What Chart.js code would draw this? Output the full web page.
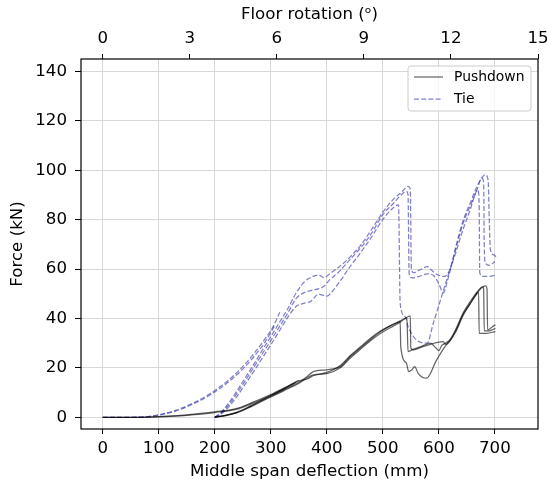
<!DOCTYPE html>
<html>
<head>
<meta charset="utf-8">
<script src="https://cdn.jsdelivr.net/npm/chart.js@4.4.1/dist/chart.umd.min.js"></script>
<style>
  html, body { margin: 0; padding: 0; background: #fff; }
  #chart { display: block; }
</style>
</head>
<body>
<canvas id="chart" width="547" height="486"></canvas>
<script>
// tick labels
const deflectionTicks = [0, 100, 200, 300, 400, 500, 600, 700];
const rotationTicks = [0, 3, 6, 9, 12, 15];
const forceTicks = [0, 20, 40, 60, 80, 100, 120, 140];

// Pushdown tests (mm, kN)
const push1X = [0, 60, 100, 150, 200, 240, 265, 300, 325, 350];
const push1Y = [0, 0, 0.3, 1, 2.2, 3.6, 5.8, 9.2, 12, 15];
const push2X = [0, 60, 100, 150, 200, 240, 265, 300, 325, 345];
const push2Y = [0, 0, 0.2, 0.8, 1.9, 3.3, 5.4, 8.8, 11.6, 14.2];
const push3X = [200, 220, 239, 263, 280, 298, 322, 352, 365, 376, 400, 424, 442, 460, 478, 495, 513, 531, 545, 549, 550, 555, 570, 585, 600, 608, 612, 620, 630, 644, 656, 668, 677, 683, 686, 687, 695, 701];
const push3Y = [0, 0.8, 1.9, 4.3, 6.3, 8.3, 11, 14.4, 16.5, 18.5, 19.2, 20.5, 24.6, 28, 31.5, 34.5, 37, 39, 40.7, 41, 28, 27.3, 28.5, 29.5, 30.4, 30.6, 29.5, 31, 35, 42, 46, 50.2, 52.5, 53.2, 52, 35.4, 36.5, 37.4];
const push4X = [200, 220, 239, 263, 280, 298, 322, 352, 365, 376, 400, 424, 442, 460, 478, 495, 513, 531, 543, 545, 555, 570, 585, 595, 600, 605, 612, 620, 630, 644, 656, 668, 678, 680, 681, 690, 701];
const push4Y = [0, 0.7, 1.8, 4.1, 6, 8, 10.6, 14, 16, 17.2, 17.7, 20, 24, 27.5, 31, 33.8, 36.2, 38.5, 40.2, 26.6, 27.6, 28.8, 30, 28, 27, 29, 30, 31.5, 35.5, 42.5, 46.8, 50.6, 52.8, 52, 35, 35, 36];
const push5X = [200, 220, 239, 263, 280, 298, 322, 352, 365, 376, 400, 424, 442, 460, 478, 495, 513, 528, 531, 532, 542, 546, 551, 557, 563, 578, 596, 611, 620, 630, 644, 656, 668, 671, 672, 685, 701];
const push5Y = [0, 0.9, 2, 4.5, 6.5, 8.6, 11.4, 14.8, 15.5, 16.8, 18.2, 21, 25, 28.5, 32, 34.8, 37, 38.5, 38.7, 28.6, 22, 18.5, 19, 20.5, 17.8, 15.8, 23.2, 28.6, 31, 34.5, 41.5, 46, 50, 50.5, 34, 34, 34.7];

// Tie tests (mm, kN)
const tie1X = [0, 50, 80, 100, 130, 160, 190, 220, 250, 270, 290, 305, 316];
const tie1Y = [0, 0, 0.3, 1, 2.8, 5.6, 9.3, 14.2, 20.5, 25.8, 31.8, 37, 42.5];
const tie2X = [0, 50, 80, 100, 130, 160, 190, 220, 250, 270, 290, 308];
const tie2Y = [0, 0, 0.2, 0.8, 2.5, 5.2, 8.8, 13.5, 19.5, 24.6, 30.5, 37.5];
const tie3X = [200, 210, 225, 240, 255, 270, 285, 300, 315, 330, 345, 360, 375, 385, 395, 405, 420, 440, 460, 480, 500, 520, 535, 545, 549, 551, 555, 565, 580, 585, 595, 610, 620, 632, 644, 656, 668, 677, 683, 688, 690, 692, 698, 702];
const tie3Y = [0, 1.7, 5.8, 10.8, 16.2, 21.6, 27.2, 32.6, 38.2, 43.8, 50.2, 54.8, 57, 57.6, 56.5, 58, 60.5, 64.5, 69.5, 76, 83, 88.5, 91.5, 93.4, 92.5, 60, 58.5, 59.5, 61, 60, 58, 57, 60, 70.5, 80, 86.7, 93.4, 97, 98.2, 96, 80, 67.8, 65.7, 65];
const tie4X = [200, 210, 225, 240, 255, 270, 285, 300, 315, 330, 345, 360, 375, 385, 395, 405, 420, 440, 460, 480, 500, 520, 535, 542, 545, 547, 552, 565, 580, 590, 600, 608, 615, 630, 644, 656, 668, 677, 680, 681, 683, 690, 700];
const tie4Y = [0, 1.4, 5, 9.8, 15, 20.3, 25.7, 31, 36.5, 42, 48, 50.5, 51.5, 52, 53, 55.6, 58.5, 63.5, 68.5, 74.5, 82, 86.8, 90.5, 91.4, 90, 58, 56.4, 57, 58, 57.5, 54, 50.4, 55, 68, 79, 85.5, 92, 96.8, 95, 70, 62.5, 61.5, 63];
const tie5X = [200, 210, 225, 240, 255, 270, 285, 300, 315, 330, 345, 360, 372, 385, 400, 410, 425, 440, 460, 480, 500, 515, 528, 531, 540, 545, 551, 560, 579, 590, 603, 614, 630, 644, 656, 666, 670, 672, 673, 680, 690, 701];
const tie5Y = [0, 1.1, 4.2, 8.6, 13.6, 18.7, 24, 29.3, 34.8, 40.3, 44.8, 46.2, 47, 49.8, 49, 51, 55.5, 60.5, 66.5, 73, 80, 84, 86, 46, 40.7, 36.7, 34, 31.3, 30, 38, 47.5, 55.6, 66.5, 76.5, 84, 91, 92, 85, 58.4, 57, 57, 57.5];

const pushColor = 'rgba(0,0,0,0.6)';
const tieColor = 'rgba(50,50,170,0.62)';
const tieDash = [5, 2.2];
const FONT = 'DejaVu Sans';

function toPoints(xs, ys) {
  return xs.map((x, i) => ({ x: x, y: ys[i] }));
}

function series(label, xs, ys, color, dash) {
  return {
    label: label,
    data: toPoints(xs, ys),
    showLine: true,
    borderColor: color,
    borderWidth: 1.25,
    borderDash: dash || [],
    pointRadius: 0,
    pointHoverRadius: 0,
    cubicInterpolationMode: 'monotone',
    fill: false
  };
}

const datasets = [
  series('Pushdown', push1X, push1Y, pushColor),
  series('Pushdown', push2X, push2Y, pushColor),
  series('Pushdown', push3X, push3Y, pushColor),
  series('Pushdown', push4X, push4Y, pushColor),
  series('Pushdown', push5X, push5Y, pushColor),
  series('Tie', tie1X, tie1Y, tieColor, tieDash),
  series('Tie', tie2X, tie2Y, tieColor, tieDash),
  series('Tie', tie3X, tie3Y, tieColor, tieDash),
  series('Tie', tie4X, tie4Y, tieColor, tieDash),
  series('Tie', tie5X, tie5Y, tieColor, tieDash)
];

const legendEntries = [
  { text: 'Pushdown', color: pushColor, dash: [] },
  { text: 'Tie', color: tieColor, dash: tieDash }
];

// frame around the plot + legend box in the upper right corner
const framePlugin = {
  id: 'frame',
  afterDraw(chart) {
    const { ctx, chartArea: a } = chart;
    ctx.save();
    ctx.strokeStyle = '#000';
    ctx.lineWidth = 1.2;
    ctx.strokeRect(a.left, a.top, a.right - a.left, a.bottom - a.top);

    const w = 123, h = 45;
    const bx = a.right - 7 - w, by = a.top + 7;
    ctx.beginPath();
    ctx.roundRect(bx, by, w, h, 3);
    ctx.fillStyle = 'rgba(255,255,255,0.8)';
    ctx.fill();
    ctx.strokeStyle = '#cccccc';
    ctx.lineWidth = 1;
    ctx.stroke();

    ctx.font = '13.9px "' + FONT + '"';
    ctx.textBaseline = 'middle';
    ctx.textAlign = 'left';
    legendEntries.forEach((e, i) => {
      const y = by + 11 + i * 22;
      ctx.beginPath();
      ctx.setLineDash(e.dash);
      ctx.strokeStyle = e.color;
      ctx.lineWidth = 1.25;
      ctx.moveTo(bx + 6, y);
      ctx.lineTo(bx + 35, y);
      ctx.stroke();
      ctx.setLineDash([]);
      ctx.fillStyle = '#000';
      ctx.fillText(e.text, bx + 46, y);
    });
    ctx.restore();
  }
};

const tickFont = { family: FONT, size: 16.67 };

new Chart(document.getElementById('chart'), {
  type: 'scatter',
  data: { datasets: datasets },
  plugins: [framePlugin],
  options: {
    responsive: false,
    animation: false,
    devicePixelRatio: 1,
    layout: { padding: { left: 0, top: 0, right: 9, bottom: 0 } },
    plugins: {
      legend: { display: false },
      tooltip: { enabled: false }
    },
    scales: {
      x: {
        type: 'linear',
        position: 'bottom',
        min: -38.75,
        max: 777,
        afterBuildTicks: s => { s.ticks = deflectionTicks.map(v => ({ value: v })); },
        afterFit: s => { s.height = 57; s.paddingLeft = 0; s.paddingRight = 0; },
        grid: { color: '#d8d8d8', lineWidth: 1, tickColor: '#000', tickLength: 5 },
        border: { display: false },
        ticks: { font: tickFont, color: '#000', padding: 5, maxRotation: 0 },
        title: { display: true, text: 'Middle span deflection (mm)', font: tickFont, color: '#000', padding: { top: 0, bottom: 4 } }
      },
      x2: {
        type: 'linear',
        position: 'top',
        min: -0.75,
        max: 15,
        afterBuildTicks: s => { s.ticks = rotationTicks.map(v => ({ value: v })); },
        afterFit: s => { s.height = 59; s.paddingLeft = 0; s.paddingRight = 0; },
        grid: { drawOnChartArea: false, tickColor: '#000', tickLength: 5 },
        border: { display: false },
        ticks: { font: tickFont, color: '#000', padding: 5, maxRotation: 0 },
        title: { display: true, text: 'Floor rotation (ᵒ)', font: tickFont, color: '#000', padding: { top: 5, bottom: 0 } }
      },
      y: {
        type: 'linear',
        position: 'left',
        min: -4.75,
        max: 145,
        afterBuildTicks: s => { s.ticks = forceTicks.map(v => ({ value: v })); },
        afterFit: s => { s.width = 81; },
        grid: { color: '#d8d8d8', lineWidth: 1, tickColor: '#000', tickLength: 6 },
        border: { display: false },
        ticks: { font: tickFont, color: '#000', padding: 8 },
        title: { display: true, text: 'Force (kN)', font: tickFont, color: '#000', padding: { top: 8, bottom: 0 } }
      }
    }
  }
});
</script>
</body>
</html>
